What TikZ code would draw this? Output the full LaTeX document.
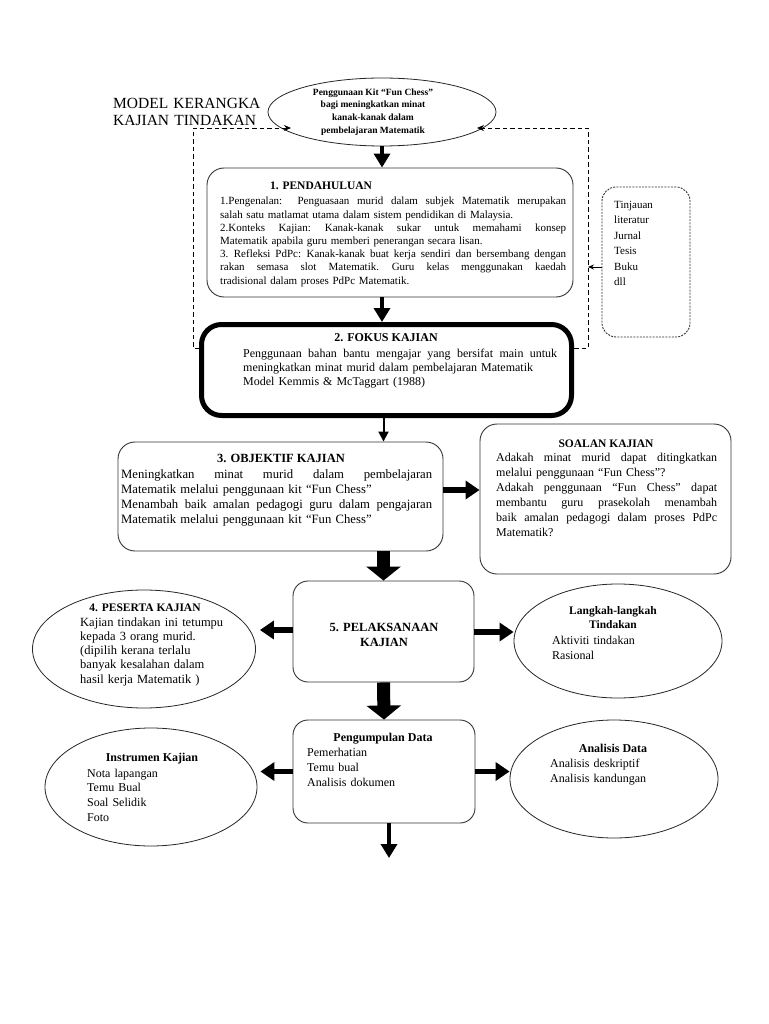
\documentclass[tikz,border=0pt]{standalone}
\usepackage{fontspec}
\setmainfont{Liberation Serif}
\usetikzlibrary{arrows.meta,shapes.geometric}
\newcommand\fsz[2]{\fontsize{#1}{#2}\selectfont}
\newcommand\jst[2]{{\spaceskip=0.25em plus 1fil\relax\xspaceskip=0.3em plus 1fil\relax\makebox[#1][s]{#2}}}
\begin{document}
\begin{tikzpicture}[x=1pt,y=-1pt,
  box/.style={draw=black!80,line width=0.9pt,rounded corners=17pt,inner sep=0pt},
  oval/.style={draw=black!85,ellipse,line width=0.8pt,inner sep=0pt},
  tx/.style={inner sep=0pt,align=left,anchor=base west,text width=200pt},
  hd/.style={inner sep=0pt,anchor=base},
  dsh/.style={line width=0.8pt,dash pattern=on 4.5pt off 3pt},
  arA/.style={line width=4pt,-{Triangle[width=16pt,length=14pt]}},
  arB/.style={line width=5.5pt,-{Triangle[width=18pt,length=14pt]}},
  arC/.style={line width=13pt,-{Triangle[width=34pt,length=14pt]}},
  arD/.style={line width=2pt,-{Triangle[width=10pt,length=10pt]}},
]
\useasboundingbox (0,0) rectangle (768,1024);
\fill[white] (0,0) rectangle (768,1024);

% title
\node[tx,font=\fsz{15.5}{17}] (title) at (113,108.5) {MODEL KERANGKA\\KAJIAN TINDAKAN};

% top ellipse
\node[oval,minimum width=228pt,minimum height=68pt] (top) at (382,112) {};
\node[inner sep=0pt,align=center,font=\bfseries\fsz{9.5}{12.7}] (topT) at (373,112)
  {Penggunaan Kit “Fun Chess”\\bagi meningkatkan minat\\kanak-kanak dalam\\pembelajaran Matematik};

% boxes
\node[box,minimum width=366pt,minimum height=129pt] (pend) at (390,232.5) {};
\node[box,draw=black,line width=5pt,rounded corners=20pt,minimum width=370pt,minimum height=91pt] (fok) at (386.5,370) {};
\node[box,minimum width=325pt,minimum height=109pt] (obj) at (280.5,496.5) {};
\node[box,minimum width=251pt,minimum height=150pt] (soal) at (605.5,499) {};
\node[box,dash pattern=on 2pt off 1.2pt,rounded corners=14pt,minimum width=88pt,minimum height=150pt] (tin) at (646,262) {};
\node[box,rounded corners=15pt,minimum width=181pt,minimum height=101pt] (pel) at (383.5,631.5) {};
\node[box,rounded corners=15pt,minimum width=182pt,minimum height=103pt] (peng) at (384,771.5) {};

% ellipses
\node[oval,minimum width=223pt,minimum height=118pt] (pes) at (144,649) {};
\node[oval,minimum width=208pt,minimum height=114pt] (lang) at (618,641) {};
\node[oval,minimum width=212pt,minimum height=118pt] (inst) at (151,787) {};
\node[oval,minimum width=208pt,minimum height=118pt] (ana) at (614,779) {};

% texts
\node[hd,font=\bfseries\fsz{11.5}{13}] (pendH) at (321,189.5) {1. PENDAHULUAN};
\node[tx,text width=346pt,font=\fsz{11}{13.2}] (pendT) at (220,205) {%
\jst{346pt}{1.Pengenalan:\ \ Penguasaan murid dalam subjek Matematik merupakan}\\
salah satu matlamat utama dalam sistem pendidikan di Malaysia.\\
\jst{346pt}{2.Konteks Kajian: Kanak-kanak sukar untuk memahami konsep}\\
Matematik apabila guru memberi penerangan secara lisan.\\
\jst{346pt}{3. Refleksi PdPc: Kanak-kanak buat kerja sendiri dan bersembang dengan}\\
\jst{346pt}{rakan semasa slot Matematik. Guru kelas menggunakan kaedah}\\
tradisional dalam proses PdPc Matematik.};

\node[tx,text width=70pt,font=\fsz{11}{15.4}] (tinT) at (614,208.5) {Tinjauan\\literatur\\Jurnal\\Tesis\\Buku\\dll};

\node[hd,font=\bfseries\fsz{12}{14}] (fokH) at (386,341.5) {2. FOKUS KAJIAN};
\node[tx,text width=314pt,font=\fsz{12}{14.3}] (fokT) at (243,357) {%
\jst{314pt}{Penggunaan bahan bantu mengajar yang bersifat main untuk}\\
meningkatkan minat murid dalam pembelajaran Matematik\\
Model Kemmis \& McTaggart (1988)};

\node[hd,font=\bfseries\fsz{12.5}{14}] (objH) at (281,462) {3. OBJEKTIF KAJIAN};
\node[tx,text width=311pt,font=\fsz{12.7}{15}] (objT) at (121,478) {%
\jst{311pt}{Meningkatkan minat murid dalam pembelajaran}\\
Matematik melalui penggunaan kit “Fun Chess”\\
\jst{311pt}{Menambah baik amalan pedagogi guru dalam pengajaran}\\
Matematik melalui penggunaan kit “Fun Chess”};

\node[hd,font=\bfseries\fsz{11.5}{13}] (soalH) at (606,447) {SOALAN KAJIAN};
\node[tx,text width=221pt,font=\fsz{12}{15}] (soalT) at (496,461.5) {%
\jst{221pt}{Adakah minat murid dapat ditingkatkan}\\
melalui penggunaan “Fun Chess”?\\
\jst{221pt}{Adakah penggunaan “Fun Chess” dapat}\\
\jst{221pt}{membantu guru prasekolah menambah}\\
\jst{221pt}{baik amalan pedagogi dalam proses PdPc}\\
Matematik?};

\node[hd,font=\bfseries\fsz{11.5}{13}] (pesH) at (145,611) {4. PESERTA KAJIAN};
\node[tx,text width=170pt,font=\fsz{12.5}{14.3}] (pesT) at (80,626) {Kajian tindakan ini tetumpu\\kepada 3 orang murid.\\(dipilih kerana terlalu\\banyak kesalahan dalam\\hasil kerja Matematik )};

\node[inner sep=0pt,align=center,font=\bfseries\fsz{12.5}{15.5}] (pelT) at (384,635) {5. PELAKSANAAN\\KAJIAN};

\node[inner sep=0pt,align=center,font=\bfseries\fsz{11.5}{14}] (langH) at (613,618) {Langkah-langkah\\Tindakan};
\node[tx,text width=150pt,font=\fsz{12}{15}] (langT) at (552,644) {Aktiviti tindakan\\Rasional};

\node[hd,font=\bfseries\fsz{12}{14}] (pengH) at (383,741) {Pengumpulan Data};
\node[tx,text width=150pt,font=\fsz{12}{15}] (pengT) at (307,756) {Pemerhatian\\Temu bual\\Analisis dokumen};

\node[hd,font=\bfseries\fsz{12}{14}] (instH) at (152,761) {Instrumen Kajian};
\node[tx,text width=150pt,font=\fsz{12}{14.7}] (instT) at (87,777) {Nota lapangan\\Temu Bual\\Soal Selidik\\Foto};

\node[hd,font=\bfseries\fsz{12}{14}] (anaH) at (613,752) {Analisis Data};
\node[tx,text width=150pt,font=\fsz{12}{15.5}] (anaT) at (550,767) {Analisis deskriptif\\Analisis kandungan};

% dashed feedback loops
\coordinate (dL1) at (199,348);
\coordinate (dL2) at (193,348);
\coordinate (dL3) at (193,128);
\coordinate (dL4) at (291,128);
\coordinate (dR1) at (574,348);
\coordinate (dR2) at (588,348);
\coordinate (dR3) at (588,128);
\coordinate (dR4) at (477,128);
\draw[dsh,-{Stealth[length=7pt,width=6pt]}] (dL1) -- (dL2) -- (dL3) -- (dL4);
\draw[dsh,-{Stealth[length=7pt,width=6pt]}] (dR1) -- (dR2) -- (dR3) -- (dR4);
\coordinate (tinA) at (602,267);
\draw[line width=0.8pt,-{Stealth[length=6pt,width=5pt]}] (tinA) -- (tinA -| dR2);

% arrows
\draw[arA] (top.south) -- (top.south |- pend.north);
\draw[arA] (top.south |- pend.south) -- (top.south |- fok.north);
\draw[arD] (pel.north |- fok.south) -- (pel.north |- obj.north);
\draw[arB] ([yshift=6.5pt]obj.east) -- ([yshift=6.5pt]obj.east -| soal.west);
\draw[arC] (obj.south -| pel.north) -- (pel.north);
\draw[arB] ([yshift=1.5pt]pel.west) -- ([xshift=4pt,yshift=1.5pt]pel.west -| pes.east);
\draw[arB] ([yshift=-0.5pt]pel.east) -- ([yshift=-0.5pt]pel.east -| lang.west);
\draw[arC] (pel.south) -- (peng.north);
\draw[arB] (peng.west) -- ([xshift=3pt]peng.west -| inst.east);
\draw[arB] (peng.east) -- (peng.east -| ana.west);
\coordinate (endp) at (389,858);
\draw[arA] (endp |- peng.south) -- (endp);
\end{tikzpicture}
\end{document}
